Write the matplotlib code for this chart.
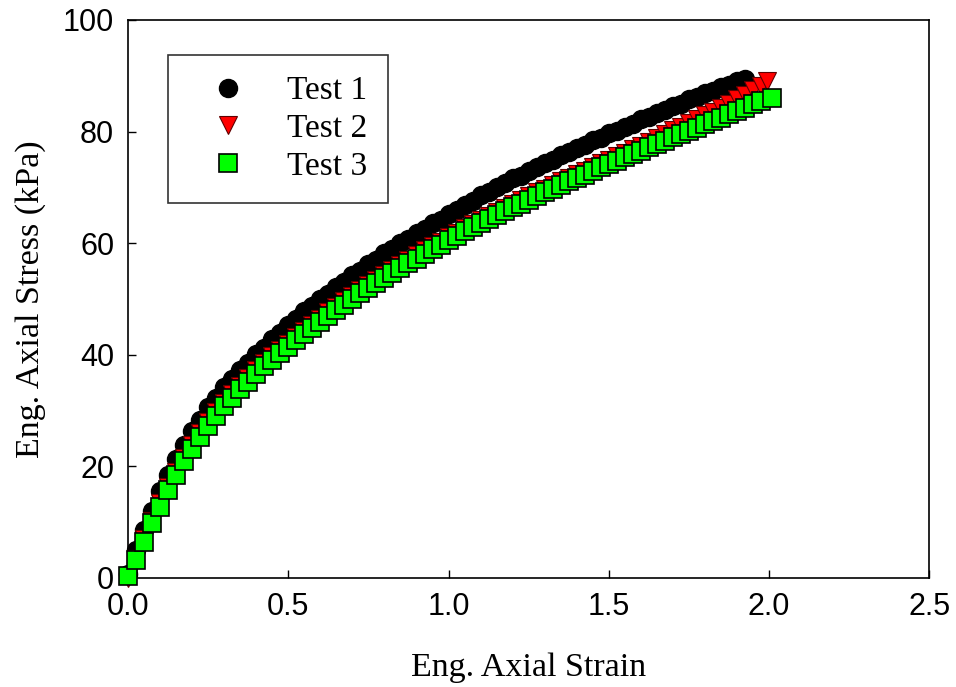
import numpy as np
import matplotlib
matplotlib.use("Agg")
import matplotlib.pyplot as plt


#--------------------------------------------------------------------------------------------------
# Stress-strain data for the three tests (strain in %, stress in kPa).
#--------------------------------------------------------------------------------------------------
#
strainGrid = [0.000, 0.025, 0.050, 0.075, 0.100, 0.125, 0.150, 0.175, 0.200, 0.225,
              0.250, 0.275, 0.300, 0.325, 0.350, 0.375, 0.400, 0.425, 0.450, 0.475,
              0.500, 0.525, 0.550, 0.575, 0.600, 0.625, 0.650, 0.675, 0.700, 0.725,
              0.750, 0.775, 0.800, 0.825, 0.850, 0.875, 0.900, 0.925, 0.950, 0.975,
              1.000, 1.025, 1.050, 1.075, 1.100, 1.125, 1.150, 1.175, 1.200, 1.225,
              1.250, 1.275, 1.300, 1.325, 1.350, 1.375, 1.400, 1.425, 1.450, 1.475,
              1.500, 1.525, 1.550, 1.575, 1.600, 1.625, 1.650, 1.675, 1.700, 1.725,
              1.750, 1.775, 1.800, 1.825, 1.850, 1.875, 1.900, 1.925, 1.950, 1.975,
              2.000]

test1Strain = strainGrid[:78]
test1Stress = [0.8, 5.0, 8.6, 12.0, 15.5, 18.4, 21.4, 23.8, 26.4, 28.4,
               30.6, 32.3, 34.2, 35.6, 37.3, 38.6, 40.2, 41.3, 42.8, 43.9,
               45.4, 46.4, 47.8, 48.7, 50.0, 50.9, 52.2, 53.0, 54.3, 55.1,
               56.3, 57.0, 58.2, 58.9, 60.0, 60.7, 61.8, 62.5, 63.6, 64.2,
               65.3, 65.9, 66.9, 67.5, 68.6, 69.1, 70.1, 70.7, 71.6, 72.1,
               73.0, 73.6, 74.4, 74.9, 75.8, 76.3, 77.1, 77.6, 78.5, 78.9,
               79.7, 80.1, 80.9, 81.4, 82.2, 82.6, 83.4, 83.8, 84.6, 85.0,
               85.8, 86.2, 86.9, 87.3, 88.0, 88.4, 89.1, 89.5]

test2Strain = strainGrid[:80] + [1.995]
test2Stress = [0.0, 3.4, 6.9, 10.3, 13.4, 16.3, 19.0, 21.5, 23.8, 25.9,
               27.9, 29.7, 31.4, 32.9, 34.4, 35.8, 37.2, 38.5, 39.7, 40.9,
               42.0, 43.2, 44.3, 45.4, 46.5, 47.6, 48.6, 49.6, 50.6, 51.6,
               52.5, 53.4, 54.3, 55.2, 56.1, 57.0, 57.8, 58.7, 59.5, 60.3,
               61.1, 61.9, 62.7, 63.5, 64.2, 64.9, 65.6, 66.3, 67.0, 67.7,
               68.4, 69.1, 69.8, 70.4, 71.1, 71.7, 72.4, 73.0, 73.7, 74.3,
               74.9, 75.6, 76.2, 76.8, 77.5, 78.1, 78.8, 79.5, 80.2, 80.8,
               81.5, 82.2, 82.9, 83.6, 84.3, 85.0, 85.8, 86.6, 87.4, 88.2,
               89.0]

test3Strain = strainGrid[:80] + [2.010]
test3Stress = [0.3, 3.2, 6.5, 9.8, 12.8, 15.7, 18.4, 20.9, 23.2, 25.3,
               27.3, 29.1, 30.8, 32.3, 33.8, 35.2, 36.6, 37.9, 39.1, 40.3,
               41.4, 42.6, 43.7, 44.8, 45.9, 47.0, 48.0, 49.0, 50.0, 51.0,
               51.9, 52.8, 53.7, 54.6, 55.5, 56.4, 57.2, 58.1, 58.9, 59.7,
               60.5, 61.3, 62.1, 62.9, 63.6, 64.3, 65.0, 65.7, 66.4, 67.1,
               67.8, 68.5, 69.1, 69.8, 70.4, 71.1, 71.7, 72.3, 73.0, 73.6,
               74.2, 74.8, 75.4, 76.0, 76.6, 77.2, 77.8, 78.4, 79.0, 79.6,
               80.1, 80.7, 81.3, 81.9, 82.5, 83.1, 83.7, 84.3, 84.9, 85.5,
               86.0]

xTicks = [0.0, 0.5, 1.0, 1.5, 2.0, 2.5]
yTicks = [0, 20, 40, 60, 80, 100]


#--------------------------------------------------------------------------------------------------
# Plot the three tests.
#--------------------------------------------------------------------------------------------------
#
serifFont = "Liberation Serif"
sansFont = "Liberation Sans"

fig = plt.figure(figsize = (9.56, 6.87), dpi = 100)
ax = fig.add_axes([0.134, 0.1587, 0.838, 0.8122])

ax.plot(test1Strain, test1Stress, linestyle = "none", marker = "o", markersize = 13,
        markerfacecolor = "black", markeredgecolor = "black", label = "Test 1",
        zorder = 3, clip_on = False)
ax.plot(test2Strain, test2Stress, linestyle = "none", marker = "v", markersize = 13,
        markerfacecolor = "#ff0000", markeredgecolor = "#600000", markeredgewidth = 0.8,
        label = "Test 2", zorder = 4, clip_on = False)
ax.plot(test3Strain, test3Stress, linestyle = "none", marker = "s", markersize = 13,
        markerfacecolor = "#00ff00", markeredgecolor = "black", markeredgewidth = 1.2,
        label = "Test 3", zorder = 5, clip_on = False)

ax.set_xlim(0, 2.5)
ax.set_ylim(0, 100)
ax.set_xticks(xTicks)
ax.set_yticks(yTicks)
ax.set_xticklabels(["%.1f" % t for t in xTicks], fontfamily = sansFont, fontsize = 22)
ax.set_yticklabels([str(t) for t in yTicks], fontfamily = sansFont, fontsize = 22)
ax.tick_params(direction = "in", length = 6, width = 1, pad = 10, top = False, right = False)
for spine in ax.spines.values():
    spine.set_linewidth(1.2)

ax.set_xlabel("Eng. Axial Strain", fontfamily = serifFont, fontsize = 24.5, labelpad = 22)
ax.set_ylabel("Eng. Axial Stress (kPa)", fontfamily = serifFont, fontsize = 24.5, labelpad = 12)

legend = ax.legend(loc = "upper left", bbox_to_anchor = (0.05, 0.937), frameon = True,
                   fancybox = False, shadow = False, handletextpad = 0.6, borderpad = 0.62,
                   labelspacing = 0.22, borderaxespad = 0, handlelength = 2.35,
                   prop = {"family": serifFont, "size": 24})
legend.get_frame().set_edgecolor("black")
legend.get_frame().set_linewidth(1.2)

fig.savefig("out.png", dpi = 100)
